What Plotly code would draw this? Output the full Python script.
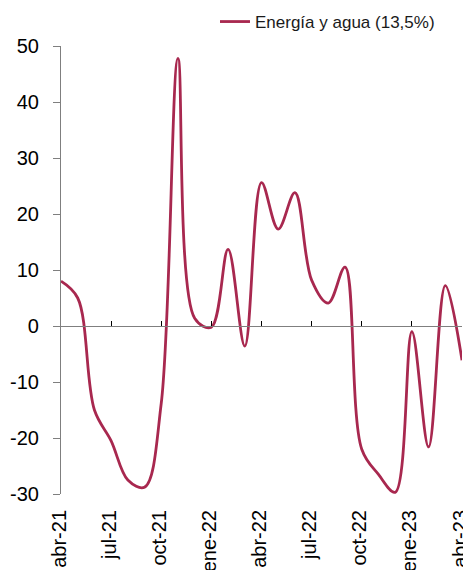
import plotly.graph_objects as go

months = ["abr-21", "may-21", "jun-21", "jul-21", "ago-21", "sep-21", "oct-21",
          "nov-21", "dic-21", "ene-22", "feb-22", "mar-22", "abr-22", "may-22",
          "jun-22", "jul-22", "ago-22", "sep-22", "oct-22", "nov-22", "dic-22",
          "ene-23", "feb-23", "mar-23", "abr-23"]
values = [8.0, 5.0, -15.0, -20.5, -27.5, -28.8, -13.8,
          47.8, 1.4, -0.2, 13.7, -3.6, 25.6, 17.3,
          23.8, 8.2, 4.1, 10.5, -22.0, -26.5, -29.7,
          -1.0, -21.6, 7.2, -6.1]
series_name = "Energía y agua (13,5%)"
tick_labels = months[::3]
y_ticks = [-30, -20, -10, 0, 10, 20, 30, 40, 50]
y_tick_text = [str(v) for v in y_ticks]

idx = list(range(len(months)))
ymin, ymax = -30, 50

fig = go.Figure()
fig.add_trace(go.Scatter(
    x=idx, y=values, mode="lines", name=series_name,
    line=dict(color="#a8284f", width=2.8, shape="spline", smoothing=1.0),
    showlegend=True,
))
# invisible companion trace so the zero-line axis (x2) is rendered
fig.add_trace(go.Scatter(
    x=idx, y=values, xaxis="x2", mode="lines", showlegend=False,
    hoverinfo="skip", line=dict(color="rgba(0,0,0,0)", width=0),
))

axis_color = "#7f7f7f"
W, H = 463, 562
M = dict(l=53, r=9, t=38, b=76, autoexpand=False)
plot_h = H - M["t"] - M["b"]
# page body has an 8px margin: figure is sized/offset to compensate
fig.update_layout(
    width=W, height=H,
    margin=M,
    paper_bgcolor="white", plot_bgcolor="white",
    font=dict(family="Liberation Sans, Arial, sans-serif", color="#000000"),
    showlegend=True,
    legend=dict(x=0.384, y=1 + 24 / plot_h, xanchor="left", yanchor="middle",
                font=dict(size=17, color="#1a1a1a"),
                bgcolor="rgba(0,0,0,0)", borderwidth=0),
    xaxis=dict(range=[0, len(months) - 1], tickmode="array",
               tickvals=idx[::3], ticktext=tick_labels,
               tickangle=-90, tickfont=dict(size=20),
               showgrid=False, zeroline=False, showline=False,
               ticks="outside", ticklen=7, tickcolor="rgba(0,0,0,0)",
               ticklabelshift=-2,
               automargin=False, ticklabeloverflow="allow"),
    xaxis2=dict(overlaying="x", anchor="free",
                position=(0 - ymin) / (ymax - ymin),
                range=[0, len(months) - 1], tickmode="linear", tick0=0, dtick=3,
                showticklabels=False, showgrid=False, zeroline=False,
                showline=True, linecolor=axis_color, linewidth=1.2,
                ticks="inside", ticklen=5, tickcolor="#000000", tickwidth=1,
                automargin=False),
    yaxis=dict(range=[ymin, ymax], tickmode="array", tickvals=y_ticks,
               ticktext=y_tick_text,
               tickfont=dict(size=20), showgrid=False, zeroline=False,
               showline=True, linecolor=axis_color, linewidth=1.2,
               ticks="outside", ticklen=7, tickcolor=axis_color,
               ticklabelstandoff=10, automargin=False),
)

fig.write_html("out.html")
